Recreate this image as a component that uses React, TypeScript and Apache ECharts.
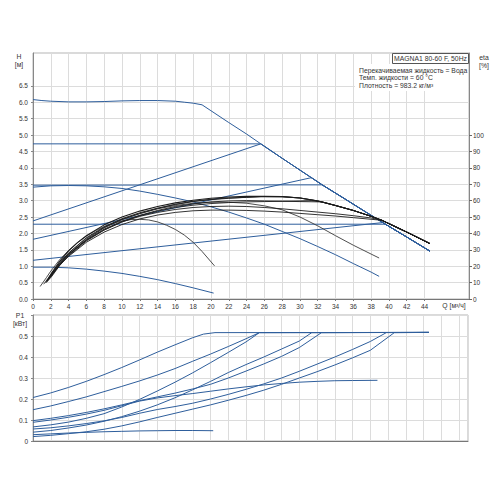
import React, { useEffect, useRef } from "react";
import * as echarts from "echarts";

// ---------- tick labels ----------
const Q_TICKS = [0, 2, 4, 6, 8, 10, 12, 14, 16, 18, 20, 22, 24, 26, 28, 30, 32, 34, 36, 38, 40, 42, 44];
const H_TICKS = [0, 0.5, 1, 1.5, 2, 2.5, 3, 3.5, 4, 4.5, 5, 5.5, 6, 6.5];
const ETA_TICKS = [0, 10, 20, 30, 40, 50, 60, 70, 80, 90, 100];
const P_TICKS = [0, 0.1, 0.2, 0.3, 0.4, 0.5];

// ---------- H(Q) curves [Q m3/h, H m] ----------
const H_MAX = [[0, 6.08], [1, 6.05], [2, 6.03], [4, 6.01], [6, 6.01], [8, 6.02], [10, 6.04], [12, 6.05], [14, 6.05], [16, 6.03], [17, 6.0], [18, 5.97], [19, 5.92], [20, 5.74], [22, 5.38], [24, 5.03], [25.6, 4.73], [28, 4.29], [30, 3.93], [32.5, 3.48], [35, 3.06], [37, 2.72], [39.6, 2.28], [42, 1.89], [44.6, 1.46]];
const H_CP3 = [[0, 4.73], [25.6, 4.73], [28, 4.29], [30, 3.93], [32.5, 3.48], [35, 3.06], [37, 2.72], [39.6, 2.28], [42, 1.89], [44.6, 1.46]];
const H_CP2 = [[0, 3.47], [32.5, 3.48], [35, 3.06], [37, 2.72], [39.6, 2.28], [42, 1.89], [44.6, 1.46]];
const H_CP1 = [[0, 2.28], [39.6, 2.28], [42, 1.89], [44.6, 1.46]];
const H_PP3 = [[0, 2.38], [25.6, 4.73], [28, 4.29], [30, 3.93], [32.5, 3.48], [35, 3.06], [37, 2.72], [39.6, 2.28], [42, 1.89], [44.6, 1.46]];
const H_PP2 = [[0, 1.82], [31.3, 3.7], [32.5, 3.48], [35, 3.06], [37, 2.72], [39.6, 2.28], [42, 1.89], [44.6, 1.46]];
const H_PP1 = [[0, 1.18], [39.3, 2.33], [42, 1.89], [44.6, 1.46]];
const H_II = [[0, 3.41], [2, 3.45], [4, 3.46], [6, 3.45], [8, 3.42], [10, 3.37], [12, 3.29], [14, 3.19], [16, 3.08], [18, 2.96], [20, 2.81], [22, 2.65], [24, 2.47], [26, 2.28], [28, 2.06], [30, 1.84], [32, 1.6], [34, 1.35], [36, 1.08], [38, 0.82], [38.9, 0.69]];
const H_I = [[0, 0.97], [2, 0.97], [4, 0.95], [6, 0.91], [8, 0.85], [10, 0.78], [12, 0.69], [14, 0.59], [16, 0.47], [18, 0.34], [20.3, 0.18]];

// ---------- efficiency curves [Q, eta %] ----------
const ETA_MAX = [[1.6, 11], [2, 15], [3, 23], [4, 29.4], [5, 34.4], [6, 38.6], [8, 45.2], [10, 50], [12, 53.6], [14, 56.4], [16, 58.6], [18, 60.2], [20, 61.4], [22, 62.2], [24, 62.6], [26, 62.6], [28, 62.4], [30, 61.6], [32, 59.8], [34, 57], [36, 54], [38, 50.4], [39.2, 48], [42, 40.8], [44.6, 33.8]];
const ETA_TAIL_26 = [[28, 62.4], [30, 61.6], [32, 59.8], [34, 57], [36, 54], [38, 50.4], [39.2, 48], [42, 40.8], [44.6, 33.8]];
const ETA_TAIL_33 = [[34, 57], [36, 54], [38, 50.4], [39.2, 48], [42, 40.8], [44.6, 33.8]];
const ETA_TAIL_39 = [[42, 40.8], [44.6, 33.8]];
const ETA_CP3 = [[1.8, 13], [2, 14.5], [3, 22], [4, 28], [6, 37.4], [8, 44], [10, 49], [12, 52.6], [14, 55.4], [16, 57.8], [18, 59.6], [20, 60.8], [22, 61.6], [24, 62], [25.6, 62.4]];
const ETA_PP3 = [[1.5, 10], [2, 13.5], [3, 21], [4, 27], [6, 36.4], [8, 43.4], [10, 48.6], [12, 52.2], [14, 55.2], [16, 57.6], [18, 59.4], [20, 60.6], [22, 61.4], [24, 62], [25.6, 62.4]];
const ETA_CP2 = [[1.6, 11.5], [2, 14], [3, 21.5], [4, 27.4], [6, 36], [8, 42.6], [10, 47.4], [12, 51], [14, 54], [16, 56.4], [18, 58], [20, 59.2], [22, 59.8], [24, 60], [26, 59.8], [28, 59.6], [30, 59.4], [32.5, 59.2]];
const ETA_PP2 = [[1.4, 10], [2, 13], [3, 20.4], [4, 26.4], [6, 35.4], [8, 42], [10, 47], [12, 50.8], [14, 53.6], [16, 55.8], [18, 57.2], [20, 58.2], [22, 58.8], [24, 59.2], [26, 59.4], [28, 59.6], [30, 59.8], [31.3, 60], [32.5, 59.2]];
const ETA_CP1 = [[1.5, 11], [2, 14], [3, 21], [4, 27], [6, 35.8], [8, 42.2], [10, 47], [12, 50.4], [14, 52.8], [16, 54.6], [18, 55.8], [20, 56.4], [22, 56.6], [24, 56.4], [26, 55.8], [28, 55], [30, 54], [32, 53], [34, 52], [36, 50.8], [38, 49.4], [39.2, 48]];
const ETA_PP1 = [[1.7, 12], [2, 14], [3, 20.6], [4, 26], [6, 34.6], [8, 40.8], [10, 45.4], [12, 48.8], [14, 51.2], [16, 52.8], [18, 53.8], [20, 54.2], [22, 54.2], [24, 54], [26, 53.6], [28, 53], [30, 52.2], [32, 51.4], [34, 50.6], [36, 49.6], [38, 48.6], [39.2, 48]];
const ETA_II = [[1.2, 9], [2, 15], [3, 22], [4, 28], [6, 37], [8, 43.6], [10, 48.4], [12, 52], [14, 55], [16, 57], [18, 58.4], [20, 59], [22, 59], [24, 58.4], [26, 56.8], [28, 54.4], [30, 50], [32, 44.6], [34, 38.6], [36, 32.8], [38, 27.4], [38.9, 25]];
const ETA_I = [[0.8, 7.6], [1.5, 13], [2, 17], [3, 24], [4, 29.6], [5, 34.4], [6, 38.4], [7, 41.6], [8, 44.2], [9, 46.2], [10, 47.6], [11, 48.4], [12, 48.6], [13, 48.2], [14, 47], [15, 45], [16, 42.4], [17, 39], [18, 34.6], [19, 29], [20.4, 20.2]];

// ---------- power curves [Q, P1 kW] ----------
const P_MAX = [[0, 0.207], [2, 0.229], [4, 0.255], [6, 0.284], [8, 0.316], [10, 0.35], [12, 0.386], [14, 0.423], [16, 0.458], [18, 0.492], [19.2, 0.509], [20.5, 0.516], [44.6, 0.517]];
const P_CP3 = [[0, 0.149], [2, 0.167], [4, 0.188], [6, 0.21], [8, 0.235], [10, 0.26], [12, 0.286], [14, 0.314], [16, 0.345], [18, 0.38], [20, 0.414], [22, 0.45], [24, 0.487], [25.5, 0.516], [44.6, 0.517]];
const P_PP3 = [[0, 0.067], [2, 0.077], [4, 0.09], [6, 0.108], [8, 0.13], [10, 0.162], [12, 0.198], [14, 0.238], [16, 0.28], [18, 0.325], [20, 0.373], [22, 0.422], [24, 0.472], [25.5, 0.516], [44.6, 0.517]];
const P_CP2 = [[0, 0.097], [2, 0.108], [4, 0.121], [6, 0.136], [8, 0.153], [10, 0.172], [12, 0.192], [14, 0.21], [16, 0.228], [18, 0.248], [20, 0.27], [22, 0.3], [24, 0.333], [26, 0.367], [28, 0.403], [30, 0.445], [32.5, 0.516], [44.6, 0.517]];
const P_PP2 = [[0, 0.042], [2, 0.05], [4, 0.062], [6, 0.076], [8, 0.094], [10, 0.116], [12, 0.142], [14, 0.172], [16, 0.206], [18, 0.244], [20, 0.284], [22, 0.326], [24, 0.364], [26, 0.4], [28, 0.438], [30, 0.476], [31.4, 0.516], [44.6, 0.517]];
const P_II = [[0, 0.089], [2, 0.1], [4, 0.113], [6, 0.128], [8, 0.146], [10, 0.168], [12, 0.19], [14, 0.205], [16, 0.216], [18, 0.226], [20, 0.237], [22, 0.248], [24, 0.258], [26, 0.267], [28, 0.274], [30, 0.28], [32, 0.284], [34, 0.287], [36, 0.288], [38.8, 0.289]];
const P_CP1 = [[0, 0.057], [2, 0.063], [4, 0.072], [6, 0.083], [8, 0.096], [10, 0.112], [12, 0.132], [14, 0.15], [16, 0.164], [18, 0.18], [20, 0.2], [22, 0.222], [24, 0.246], [26, 0.272], [28, 0.3], [30, 0.332], [32, 0.366], [34, 0.4], [36, 0.436], [38, 0.474], [39.8, 0.516], [44.6, 0.517]];
const P_PP1 = [[0, 0.021], [2, 0.027], [4, 0.035], [6, 0.044], [8, 0.056], [10, 0.072], [12, 0.091], [14, 0.112], [16, 0.132], [18, 0.152], [20, 0.172], [22, 0.194], [24, 0.217], [26, 0.242], [28, 0.27], [30, 0.3], [32, 0.33], [34, 0.362], [36, 0.396], [38, 0.432], [40.7, 0.516], [44.6, 0.517]];
const P_I = [[0, 0.03], [2, 0.034], [4, 0.038], [6, 0.041], [8, 0.044], [10, 0.046], [12, 0.048], [14, 0.049], [16, 0.05], [18, 0.05], [20.3, 0.049]];

const BLUE = "#2e5e9c";
const BLACK = "#1c1c1c";
const DARK = "#3a3a3a";
const FONT = '"Liberation Sans", Arial, sans-serif';
const LABEL = "#333";
const GRIDC = "#dcdcdc";

function ln(data: number[][], xi: number, yi: number, color: string, width = 1) {
  return {
    type: "line",
    data,
    xAxisIndex: xi,
    yAxisIndex: yi,
    symbol: "none",
    showSymbol: false,
    silent: true,
    lineStyle: { color, width },
  };
}

function txt(x: number, y: number, text: string, align = "center", size = 7) {
  return {
    type: "text",
    x,
    y,
    z: 100,
    style: {
      text,
      fill: LABEL,
      fontSize: size,
      fontFamily: FONT,
      align,
      verticalAlign: "middle",
      textAlign: align,
      textVerticalAlign: "middle",
    },
  };
}

export default function App() {
  const ref = useRef<HTMLDivElement>(null);
  useEffect(() => {
    if (!ref.current) return;
    const chart = echarts.init(ref.current, undefined, { renderer: "svg" });
    const xAxisCommon = {
      type: "value",
      min: 0,
      max: 49,
      interval: 2,
      splitLine: { show: true, lineStyle: { color: GRIDC, width: 1 } },
      axisLine: { show: true, onZero: false, lineStyle: { color: "#777", width: 1 } },
    };
    const option: any = {
      animation: false,
      backgroundColor: "#fff",
      grid: [
        { left: 33, top: 53, width: 436, height: 246, show: true, borderColor: "#b5b5b5", borderWidth: 1 },
        { left: 33, top: 315, width: 435, height: 126, show: true, borderColor: "#b5b5b5", borderWidth: 1 },
      ],
      xAxis: [
        {
          ...xAxisCommon,
          gridIndex: 0,
          axisTick: { show: true, length: 2, lineStyle: { color: "#777" }, customValues: Q_TICKS },
          axisLabel: {
            fontSize: 6.5,
            fontFamily: FONT,
            color: LABEL,
            margin: 4,
            customValues: Q_TICKS,
            formatter: (v: number) => (v <= 44 ? String(v) : ""),
          },
        },
        {
          ...xAxisCommon,
          gridIndex: 1,
          axisTick: { show: false },
          axisLabel: { show: false },
        },
      ],
      yAxis: [
        {
          type: "value",
          gridIndex: 0,
          min: 0,
          max: 7.5,
          interval: 0.5,
          splitLine: { show: true, lineStyle: { color: GRIDC, width: 1 } },
          axisLine: { show: true, onZero: false, lineStyle: { color: "#888", width: 1 } },
          axisTick: { show: true, length: 2, lineStyle: { color: "#888" }, customValues: H_TICKS },
          axisLabel: {
            fontSize: 6.5,
            fontFamily: FONT,
            color: LABEL,
            margin: 5,
            customValues: H_TICKS,
            formatter: (v: number) => (v <= 6.5 ? v.toFixed(1) : ""),
          },
        },
        {
          type: "value",
          gridIndex: 0,
          position: "right",
          min: 0,
          max: 150,
          interval: 10,
          splitLine: { show: false },
          axisLine: { show: true, onZero: false, lineStyle: { color: "#888", width: 1 } },
          axisTick: { show: true, length: 3, lineStyle: { color: "#666" }, customValues: ETA_TICKS },
          axisLabel: {
            fontSize: 6.5,
            fontFamily: FONT,
            color: LABEL,
            margin: 4,
            customValues: ETA_TICKS,
            formatter: (v: number) => (v <= 100 ? String(v) : ""),
          },
        },
        {
          type: "value",
          gridIndex: 1,
          min: 0,
          max: 0.6,
          interval: 0.1,
          splitLine: { show: true, lineStyle: { color: GRIDC, width: 1 } },
          axisLine: { show: true, onZero: false, lineStyle: { color: "#888", width: 1 } },
          axisTick: { show: true, length: 2, lineStyle: { color: "#888" } },
          axisLabel: {
            fontSize: 6.5,
            fontFamily: FONT,
            color: LABEL,
            margin: 5,
            customValues: P_TICKS,
            formatter: (v: number) => (v > 0.55 ? "" : v === 0 ? "0" : v.toFixed(1)),
          },
        },
      ],
      series: [
        ln(H_I, 0, 0, BLUE),
        ln(H_II, 0, 0, BLUE),
        ln(H_PP1, 0, 0, BLUE),
        ln(H_PP2, 0, 0, BLUE),
        ln(H_PP3, 0, 0, BLUE),
        ln(H_CP1, 0, 0, BLUE),
        ln(H_CP2, 0, 0, BLUE),
        ln(H_CP3, 0, 0, BLUE),
        ln(H_MAX, 0, 0, BLUE),
        ln(ETA_I, 0, 1, DARK, 0.9),
        ln(ETA_II, 0, 1, DARK, 0.9),
        ln(ETA_PP1.concat(ETA_TAIL_39), 0, 1, BLACK, 0.9),
        ln(ETA_CP1.concat(ETA_TAIL_39), 0, 1, BLACK, 0.9),
        ln(ETA_PP2.concat(ETA_TAIL_33), 0, 1, BLACK, 0.9),
        ln(ETA_CP2.concat(ETA_TAIL_33), 0, 1, BLACK, 0.9),
        ln(ETA_PP3.concat(ETA_TAIL_26), 0, 1, BLACK, 0.9),
        ln(ETA_CP3.concat(ETA_TAIL_26), 0, 1, BLACK, 0.9),
        ln(ETA_MAX, 0, 1, BLACK, 1.1),
        ln(P_I, 1, 2, BLUE),
        ln(P_II, 1, 2, BLUE),
        ln(P_PP1, 1, 2, BLUE),
        ln(P_CP1, 1, 2, BLUE),
        ln(P_PP2, 1, 2, BLUE),
        ln(P_CP2, 1, 2, BLUE),
        ln(P_PP3, 1, 2, BLUE),
        ln(P_CP3, 1, 2, BLUE),
        ln(P_MAX, 1, 2, BLUE),
      ],
      graphic: [
        { type: "rect", z: 90, shape: { x: 355, y: 64, width: 113, height: 27 }, style: { fill: "#fff" } },
        { type: "rect", z: 95, shape: { x: 392.5, y: 53.5, width: 76, height: 10 }, style: { fill: "#fff", stroke: "#555", lineWidth: 1 } },
        txt(430.5, 58.7, "MAGNA1 80-60 F, 50Hz", "center", 6.8),
        txt(359, 70, "Перекачиваемая жидкость = Вода", "left", 6.8),
        txt(359, 77.7, "Темп. жидкости = 60 °C", "left", 6.8),
        txt(359, 85.3, "Плотность = 983.2 кг/м³", "left", 6.8),
        txt(19, 56, "H", "center", 6.8),
        txt(19, 64.5, "[м]", "center", 6.8),
        txt(484, 57, "eta", "center", 6.8),
        txt(484, 65.5, "[%]", "center", 6.8),
        txt(20, 315, "P1", "center", 6.8),
        txt(20, 323, "[кВт]", "center", 6.8),
        txt(454, 305, "Q [м³/ч]", "center", 6.8),
      ],
    };
    chart.setOption(option);
    return () => chart.dispose();
  }, []);
  return (
    <div
      ref={ref}
      style={{ position: "fixed", left: 0, top: 0, width: 500, height: 500, background: "#fff" }}
    />
  );
}
